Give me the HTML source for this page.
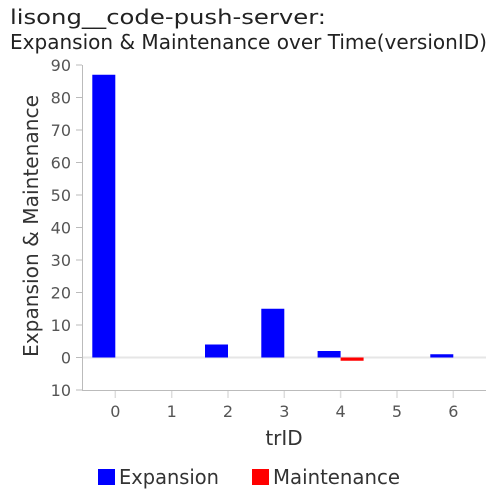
<!DOCTYPE html>
<html><head><meta charset="utf-8"><style>
html,body{margin:0;padding:0;background:#fff;}
svg{display:block;font-family:"DejaVu Sans","Liberation Sans",sans-serif;}
</style></head><body>
<svg width="500" height="500" viewBox="0 0 500 500" xmlns="http://www.w3.org/2000/svg">
<rect width="500" height="500" fill="#fff"/>
<text x="10" y="24" font-size="20" fill="#222" textLength="316" lengthAdjust="spacingAndGlyphs">lisong__code-push-server:</text>
<text x="10" y="49" font-size="20" fill="#222" textLength="477" lengthAdjust="spacingAndGlyphs">Expansion &amp; Maintenance over Time(versionID)</text>
<line x1="83" y1="357.5" x2="486" y2="357.5" stroke="#e6e6e6" stroke-width="2"/>
<line x1="82.5" y1="65" x2="82.5" y2="390" stroke="#bbb" stroke-width="1"/>
<g stroke="#bbb" stroke-width="1">
<line x1="76" y1="65" x2="82" y2="65"/><line x1="76" y1="97.5" x2="82" y2="97.5"/>
<line x1="76" y1="130" x2="82" y2="130"/><line x1="76" y1="162.5" x2="82" y2="162.5"/>
<line x1="76" y1="195" x2="82" y2="195"/><line x1="76" y1="227.5" x2="82" y2="227.5"/>
<line x1="76" y1="260" x2="82" y2="260"/><line x1="76" y1="292.5" x2="82" y2="292.5"/>
<line x1="76" y1="325" x2="82" y2="325"/><line x1="76" y1="357.5" x2="82" y2="357.5"/>
<line x1="76" y1="390" x2="82" y2="390"/>
</g>
<g font-size="16" fill="#555" text-anchor="end">
<text x="71" y="71">90</text><text x="71" y="103.5">80</text><text x="71" y="136">70</text>
<text x="71" y="168.5">60</text><text x="71" y="201">50</text><text x="71" y="233.5">40</text>
<text x="71" y="266">30</text><text x="71" y="298.5">20</text><text x="71" y="331">10</text>
<text x="71" y="363.5">0</text><text x="71" y="396">10</text>
</g>
<line x1="82" y1="390.5" x2="486" y2="390.5" stroke="#bbb" stroke-width="1"/>
<g stroke="#ddd" stroke-width="1.5">
<line x1="115.3" y1="391" x2="115.3" y2="398"/><line x1="171.7" y1="391" x2="171.7" y2="398"/>
<line x1="228" y1="391" x2="228" y2="398"/><line x1="284.3" y1="391" x2="284.3" y2="398"/>
<line x1="340.6" y1="391" x2="340.6" y2="398"/><line x1="397" y1="391" x2="397" y2="398"/>
<line x1="453.3" y1="391" x2="453.3" y2="398"/>
</g>
<g font-size="16" fill="#555" text-anchor="middle">
<text x="115.3" y="417">0</text><text x="171.7" y="417">1</text><text x="228" y="417">2</text>
<text x="284.3" y="417">3</text><text x="340.6" y="417">4</text><text x="397" y="417">5</text>
<text x="453.3" y="417">6</text>
</g>
<text x="284" y="445" font-size="20" fill="#333" text-anchor="middle">trID</text>
<text transform="translate(38,226) rotate(-90)" font-size="20" fill="#333" text-anchor="middle" textLength="262" lengthAdjust="spacingAndGlyphs">Expansion &amp; Maintenance</text>
<g fill="#0000ff">
<rect x="92.3" y="74.75" width="23" height="282.75"/>
<rect x="205" y="344.5" width="23" height="13"/>
<rect x="261.3" y="308.75" width="23" height="48.75"/>
<rect x="317.6" y="351" width="23" height="6.5"/>
<rect x="430.3" y="354.25" width="23" height="3.25"/>
</g>
<rect x="340.6" y="357.5" width="23" height="3.25" fill="#ff0000"/>
<rect x="98" y="469" width="17" height="16" fill="#0000ff"/>
<text x="119" y="484" font-size="20" fill="#333" textLength="100" lengthAdjust="spacingAndGlyphs">Expansion</text>
<rect x="252" y="469" width="17" height="16" fill="#ff0000"/>
<text x="273" y="484" font-size="20" fill="#333" textLength="127" lengthAdjust="spacingAndGlyphs">Maintenance</text>
</svg>
</body></html>
